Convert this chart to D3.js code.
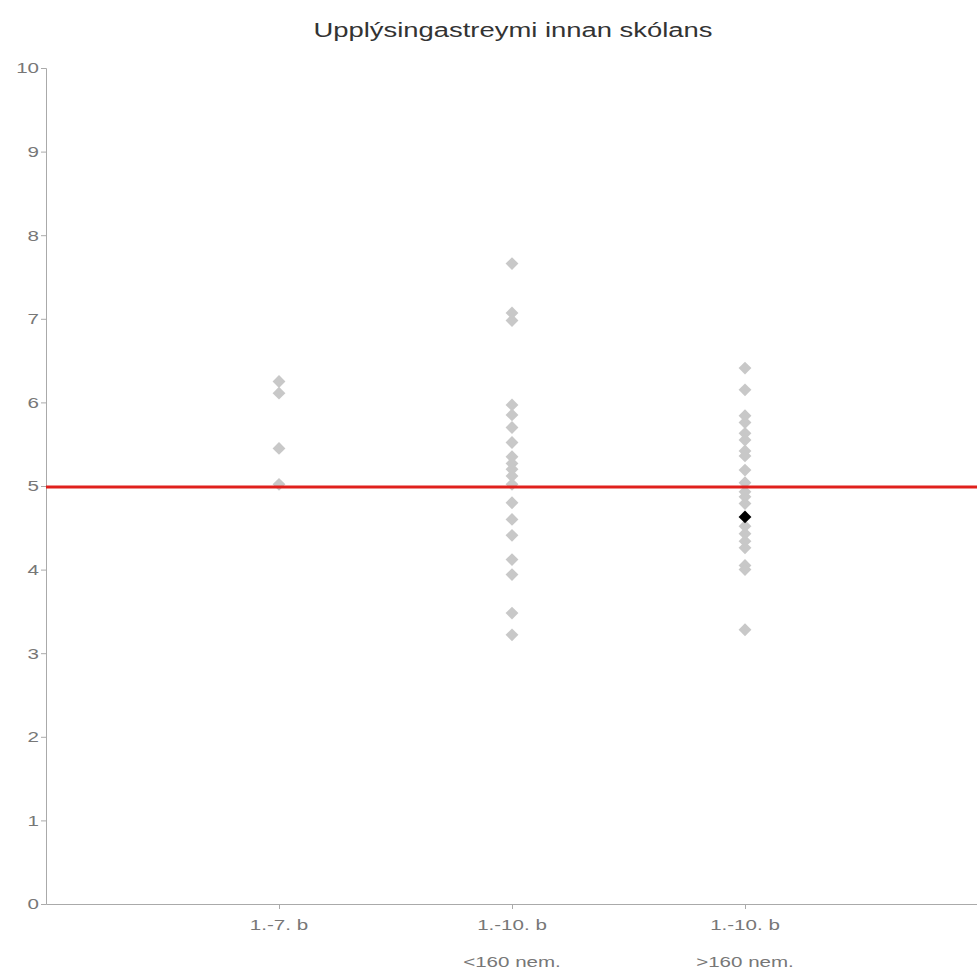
<!DOCTYPE html>
<html><head><meta charset="utf-8">
<script src="https://cdn.jsdelivr.net/npm/d3@7"></script>
<style>body{margin:0;background:#fff;} svg{display:block;font-family:"Liberation Sans",Arial,sans-serif;}</style>
</head><body>
<svg id="c" width="977" height="971"></svg>
<script>
const title = "Upplýsingastreymi innan skólans";
const categories = [["1.-7. b"], ["1.-10. b", "<160 nem."], ["1.-10. b", ">160 nem."]];
const yTicks = [0,1,2,3,4,5,6,7,8,9,10];
const referenceValue = 5;
const group1 = [6.25, 6.11, 5.45, 5.02];
const group2 = [7.66, 7.07, 6.98, 5.97, 5.85, 5.70, 5.52, 5.35, 5.27, 5.20, 5.12, 5.02, 4.80, 4.60, 4.41, 4.12, 3.94, 3.48, 3.22];
const group3 = [6.41, 6.15, 5.84, 5.76, 5.63, 5.55, 5.42, 5.36, 5.19, 5.04, 4.93, 4.87, 4.79, 4.52, 4.43, 4.34, 4.26, 4.05, 4.00, 3.28];
const highlight = {group: 3, value: 4.63};

const STRETCH = 1.37;
function stretch(sel) {
  sel.each(function() {
    const len = this.getComputedTextLength();
    d3.select(this).attr("textLength", len * STRETCH).attr("lengthAdjust", "spacingAndGlyphs");
  });
}

const svg = d3.select("#c");
const x = d3.scaleLinear().domain([0, 4]).range([46, 978]);
const y = d3.scaleLinear().domain([0, 10]).range([904, 68]);

svg.append("text").attr("x", 513).attr("y", 37).attr("text-anchor", "middle")
  .attr("font-size", 20).attr("fill", "#333").text(title).call(stretch);

// y axis
const ya = svg.append("g").attr("transform", `translate(46,0)`)
  .call(d3.axisLeft(y).tickValues(yTicks).tickSize(5).tickPadding(2).tickFormat(d3.format("d")));
ya.select(".domain").attr("stroke", "#aaa");
ya.selectAll(".tick line").attr("stroke", "#aaa");
ya.selectAll(".tick text").attr("fill", "#777").attr("font-size", 15)
  .attr("font-family", "Liberation Sans, Arial, sans-serif").call(stretch);

// x axis
const xa = svg.append("g").attr("transform", `translate(0,904)`)
  .call(d3.axisBottom(x).tickValues([1,2,3]).tickSize(5).tickSizeOuter(0).tickFormat(""));
xa.select(".domain").attr("stroke", "#aaa");
xa.selectAll(".tick line").attr("stroke", "#aaa");
categories.forEach((lines, i) => {
  lines.forEach((t, j) => {
    svg.append("text").attr("x", x(i + 1)).attr("y", 930 + j * 37)
      .attr("text-anchor", "middle").attr("font-size", 15).attr("fill", "#777").text(t).call(stretch);
  });
});

const sym = d3.symbol().type(d3.symbolDiamond2).size(105);
const groups = [group1, group2, group3];
groups.forEach((vals, i) => {
  svg.append("g").selectAll("path").data(vals).join("path")
    .attr("d", sym)
    .attr("transform", d => `translate(${x(i + 1)},${y(d)})`)
    .attr("fill", "#c8c8c8");
});

// reference line
svg.append("line").attr("x1", 46).attr("x2", 977)
  .attr("y1", y(referenceValue) + 1).attr("y2", y(referenceValue) + 1)
  .attr("stroke", "#e0201c").attr("stroke-width", 3);

// highlighted point
svg.append("path").attr("d", sym)
  .attr("transform", `translate(${x(highlight.group)},${y(highlight.value)})`)
  .attr("fill", "#000");
</script>
</body></html>
